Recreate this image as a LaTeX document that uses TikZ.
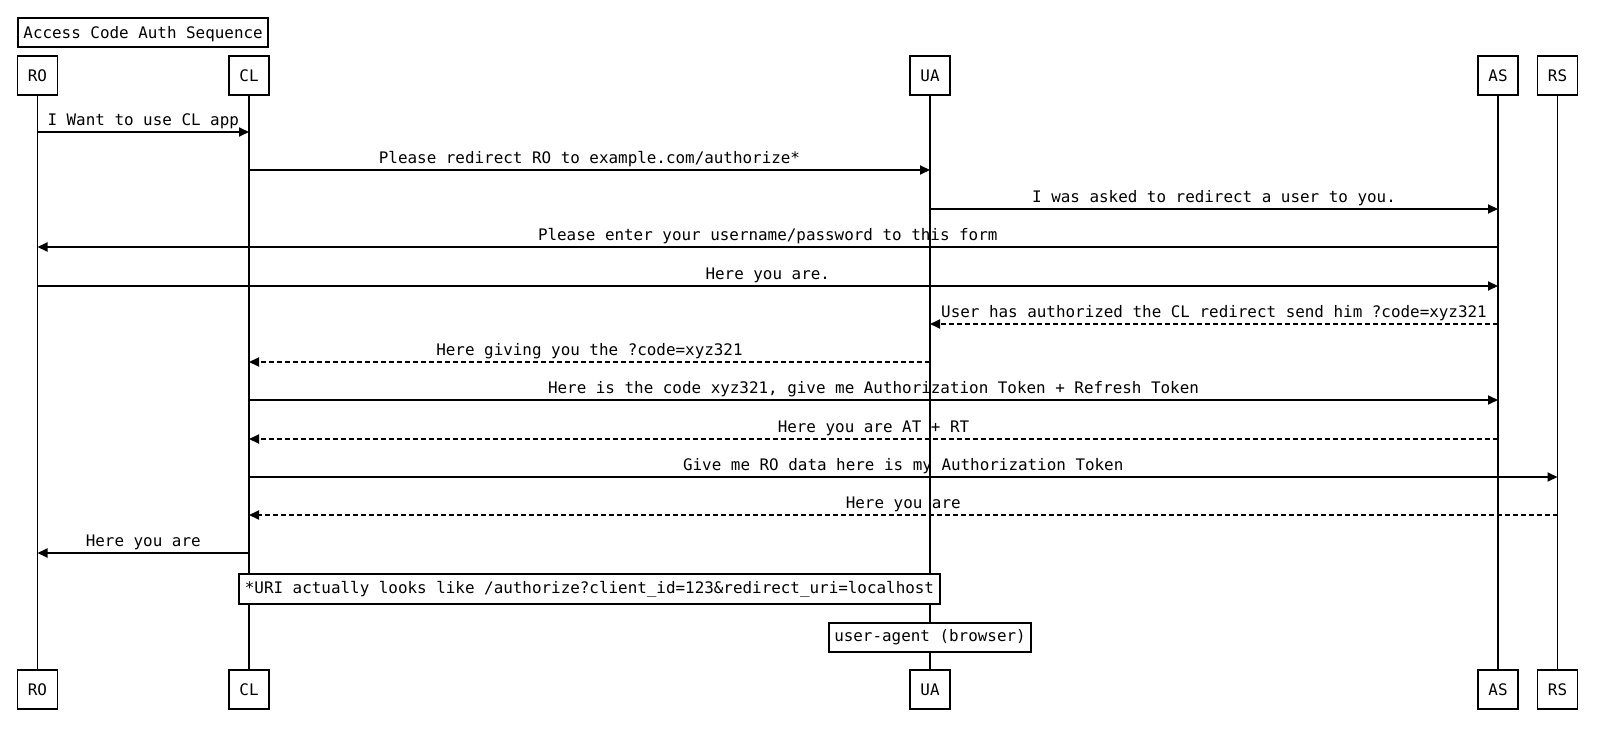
\documentclass[tikz,border=0pt]{standalone}
\usepackage{fontspec}
\setmonofont{DejaVu Sans Mono}
\usetikzlibrary{arrows.meta}
\begin{document}
\begin{tikzpicture}[x=1pt,y=-1pt,
  every node/.style={font=\fontsize{15.9}{19}\selectfont\ttfamily},
  actor/.style={draw,line width=1.9pt,fill=white,minimum width=40pt,minimum height=39pt,inner sep=0pt},
  notebox/.style={draw,line width=1.9pt,fill=white,minimum height=29.5pt,inner xsep=5.5pt,inner ysep=0pt},
  life/.style={line width=1.9pt},
  msg/.style={line width=1.9pt,-{Triangle[length=10pt,width=9pt]}},
  reply/.style={msg,dash pattern=on 5pt off 3pt},
  lbl/.style={anchor=base,inner sep=0pt}
]
\useasboundingbox (0,0) rectangle (1607,743);
% title
\node[notebox,anchor=north west,text depth=0.5pt,text height=13pt] (title) at (17,17) {Access Code Auth Sequence};
% actors top
\node[actor] (ROt) at (37.5,75.5) {RO};
\node[actor] (CLt) at (249,75.5) {CL};
\node[actor] (UAt) at (930,75.5) {UA};
\node[actor] (ASt) at (1498,75.5) {AS};
\node[actor] (RSt) at (1557.5,75.5) {RS};
% actors bottom
\node[actor] (ROb) at (37.5,689.5) {RO};
\node[actor] (CLb) at (249,689.5) {CL};
\node[actor] (UAb) at (930,689.5) {UA};
\node[actor] (ASb) at (1498,689.5) {AS};
\node[actor] (RSb) at (1557.5,689.5) {RS};
% lifelines
\draw[life] (ROt) -- (ROb);
\draw[life] (CLt) -- (CLb);
\draw[life] (UAt) -- (UAb);
\draw[life] (ASt) -- (ASb);
\draw[life] (RSt) -- (RSb);
% message rows
\foreach \n/\y in {1/132,2/170,3/209,4/247,5/286,6/324,7/362,8/400,9/439,10/477,11/515,12/553}{
  \coordinate (m\n) at (0,\y);
}
\newcommand{\msgline}[5]{% style, from, to, row, text
  \draw[#1] (#2 |- m#4) -- (#3 |- m#4);
  \path (#2 |- m#4) -- (#3 |- m#4) node[midway,lbl,yshift=6.5pt] {#5};
}
\msgline{msg}{ROt}{CLt}{1}{I Want to use CL app}
\msgline{msg}{CLt}{UAt}{2}{Please redirect RO to example.com/authorize*}
\msgline{msg}{UAt}{ASt}{3}{I was asked to redirect a user to you.}
\msgline{msg}{ASt}{ROt}{4}{Please enter your username/password to this form}
\msgline{msg}{ROt}{ASt}{5}{Here you are.}
\msgline{reply}{ASt}{UAt}{6}{User has authorized the CL redirect send him ?code=xyz321}
\msgline{reply}{UAt}{CLt}{7}{Here giving you the ?code=xyz321}
\msgline{msg}{CLt}{ASt}{8}{Here is the code xyz321, give me Authorization Token + Refresh Token}
\msgline{reply}{ASt}{CLt}{9}{Here you are AT + RT}
\msgline{msg}{CLt}{RSt}{10}{Give me RO data here is my Authorization Token}
\msgline{reply}{RSt}{CLt}{11}{Here you are}
\msgline{msg}{CLt}{ROt}{12}{Here you are}
% notes
\node[notebox] (note1) at (589.5,589) {*URI actually looks like /authorize?client\_id=123\&redirect\_uri=localhost};
\node[notebox] (note2) at (930,637.5) {user-agent (browser)};
\end{tikzpicture}
\end{document}
